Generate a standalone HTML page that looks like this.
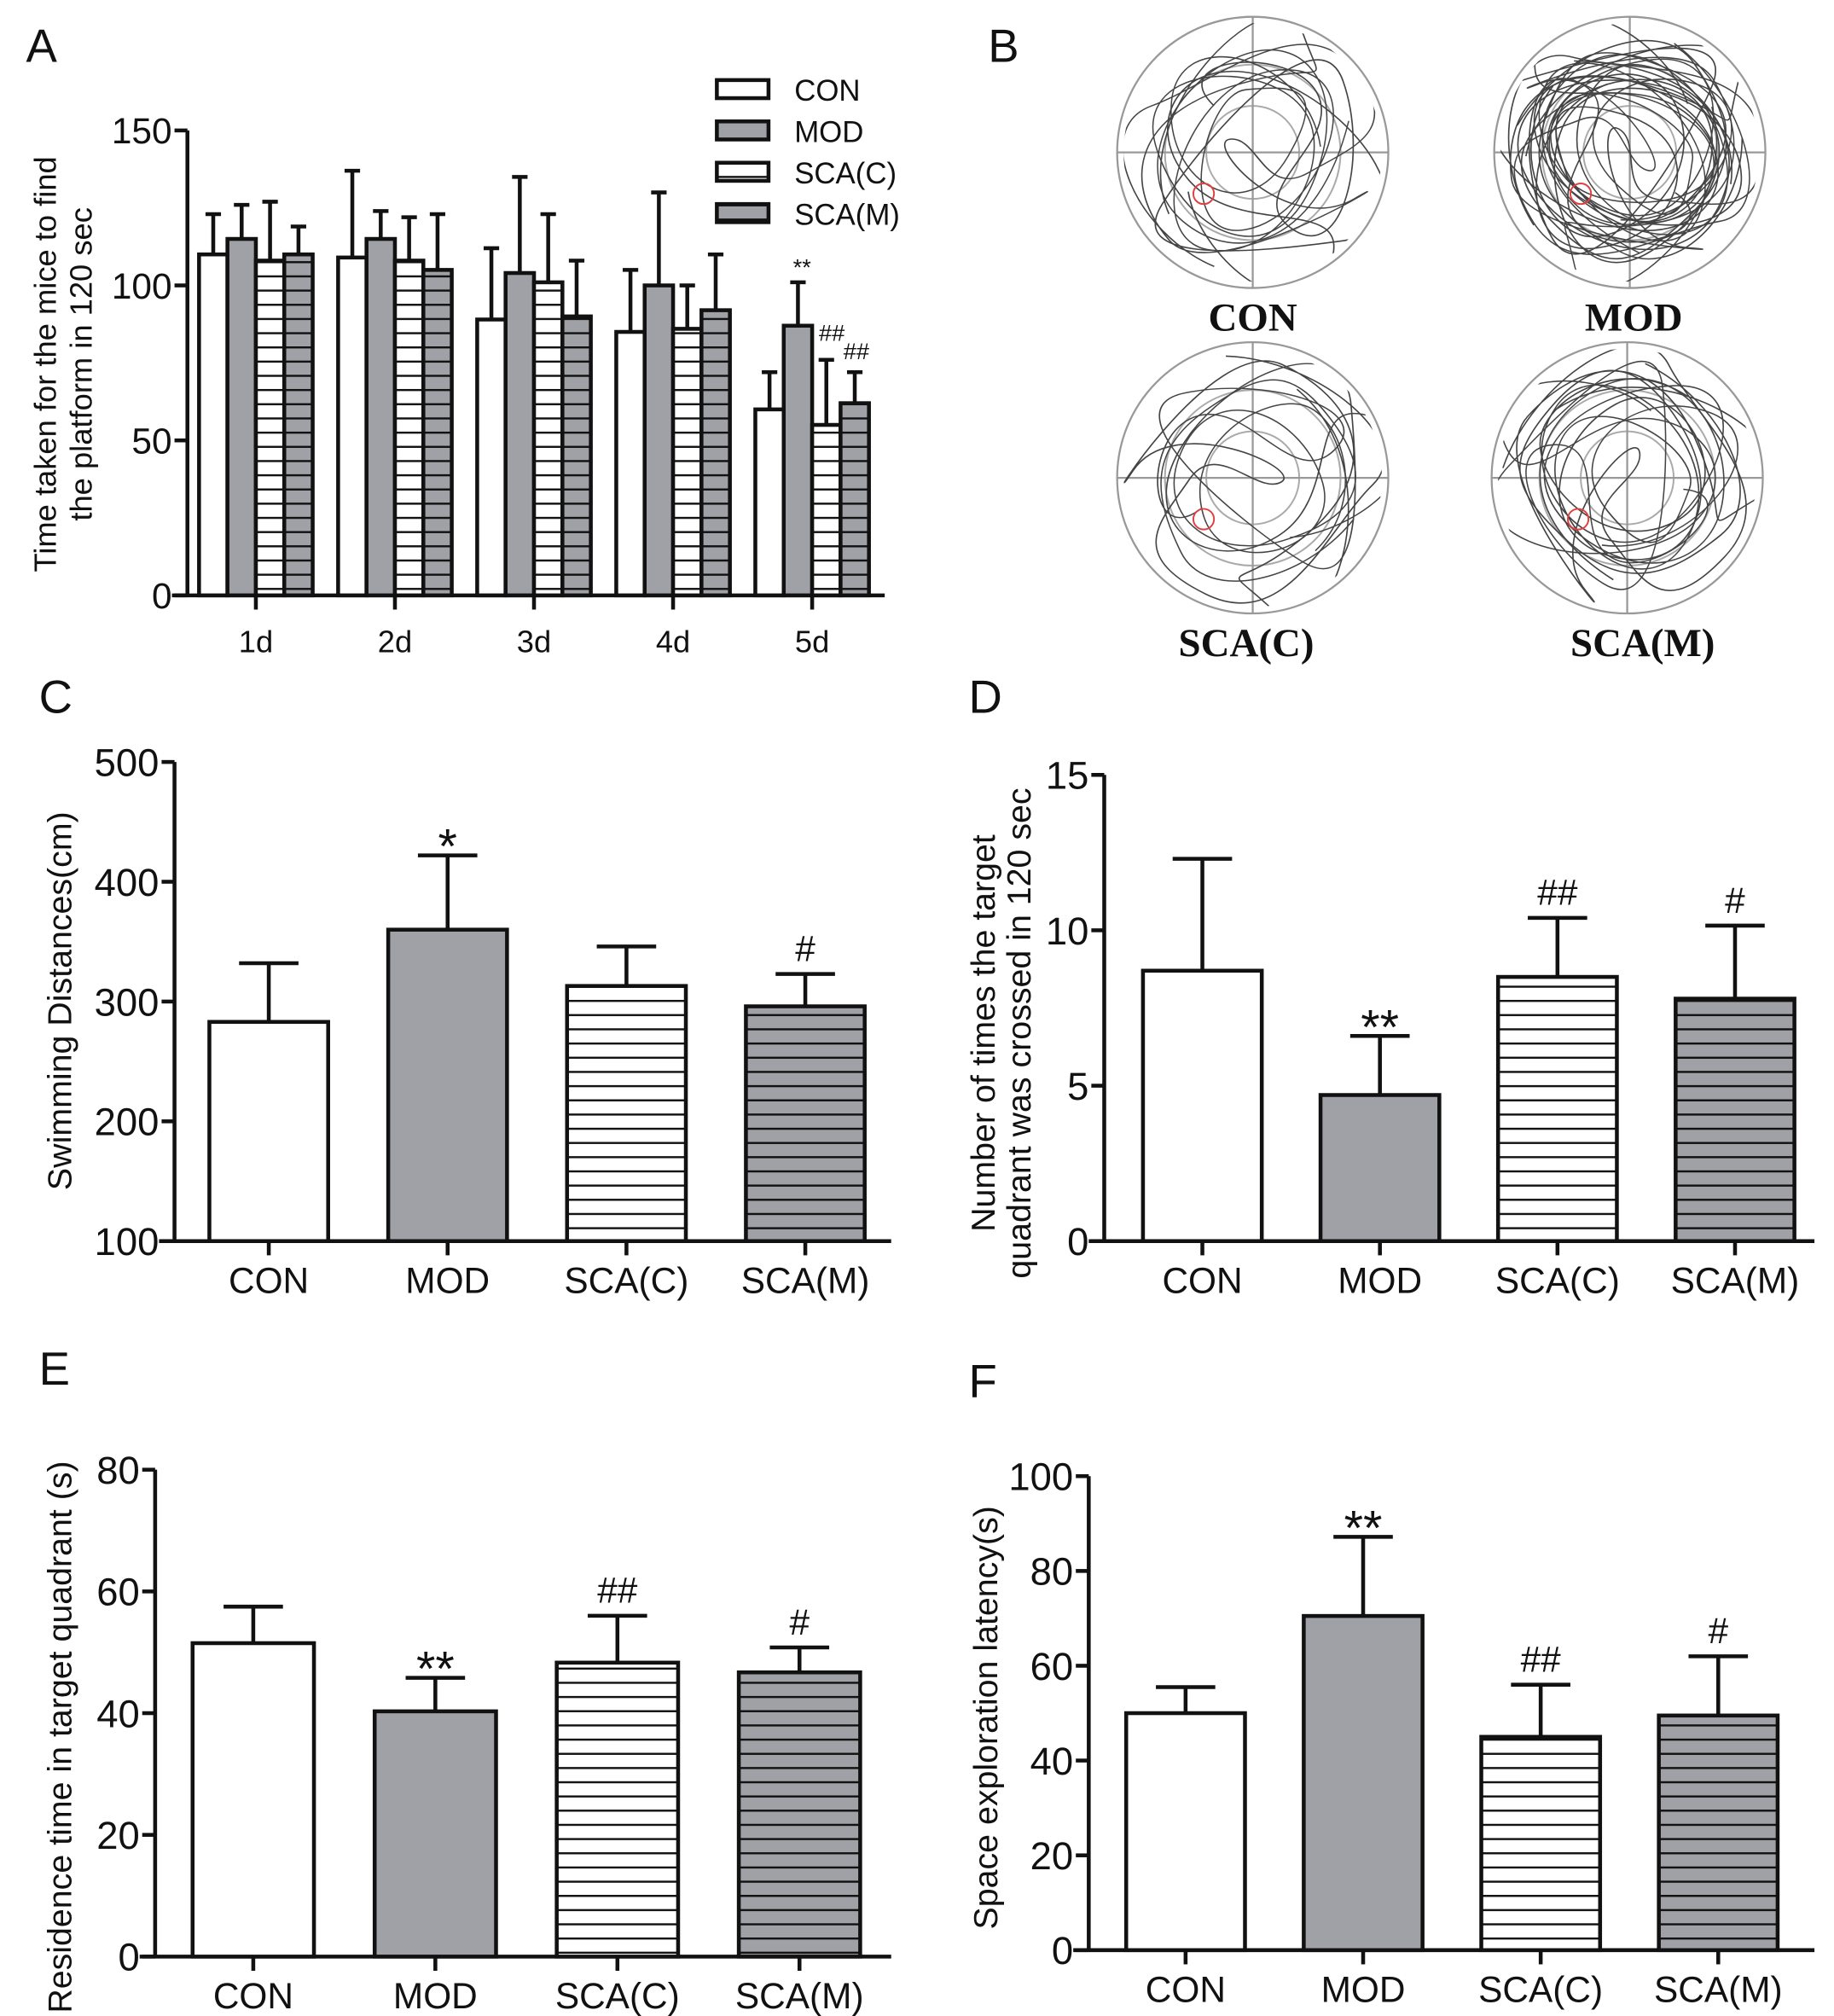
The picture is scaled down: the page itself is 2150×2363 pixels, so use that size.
<!DOCTYPE html>
<html><head><meta charset="utf-8"><style>
html,body{margin:0;padding:0;background:#fff}
svg{display:block}
text{font-family:"Liberation Sans",Arial,sans-serif;fill:#111}
.bold{font-family:"Liberation Serif",serif;font-weight:bold}
</style></head><body>
<svg id="fig" width="2150" height="2363" viewBox="0 0 1420 1561" xmlns="http://www.w3.org/2000/svg">
<defs>
<pattern id="hw" patternUnits="userSpaceOnUse" width="10" height="11"><rect width="10" height="11" fill="#fff"/><line x1="0" y1="5" x2="10" y2="5" stroke="#111" stroke-width="1.6"/></pattern>
<pattern id="hg" patternUnits="userSpaceOnUse" width="10" height="11"><rect width="10" height="11" fill="#9fa1a6"/><line x1="0" y1="5" x2="10" y2="5" stroke="#111" stroke-width="1.6"/></pattern>
<clipPath id="c1"><circle cx="970" cy="118" r="100"/></clipPath>
<clipPath id="c2"><circle cx="1262" cy="118" r="100"/></clipPath>
<clipPath id="c3"><circle cx="970" cy="370" r="100"/></clipPath>
<clipPath id="c4"><circle cx="1260" cy="370" r="100"/></clipPath>
</defs>
<g id="root"></g>
</svg>
<script>
// Panel A data
const catsA = ["1d","2d","3d","4d","5d"];
const aCON  = [110,109,89,85,60];
const aMOD  = [115,115,104,100,87];
const aSCAC = [108,108,101,86,55];
const aSCAM = [110,105,90,92,62];
const eCON  = [123,137,112,105,72];
const eMOD  = [126,124,135,130,101];
const eSCAC = [127,122,123,100,76];
const eSCAM = [119,123,108,110,72];
const ticksA = [0,50,100,150];
// Panel C
const groups = ["CON","MOD","SCA(C)","SCA(M)"];
const valC = [283,360,313,296];
const errC = [332,422,346,323];
const sigC = ["","*","","#"];
const ticksC = [100,200,300,400,500];
// Panel D
const valD = [8.7,4.7,8.5,7.8];
const errD = [12.3,6.6,10.4,10.15];
const sigD = ["","**","##","#"];
const ticksD = [0,5,10,15];
// Panel E
const valE = [51.5,40.3,48.3,46.7];
const errE = [57.5,45.8,56,50.8];
const sigE = ["","**","##","#"];
const ticksE = [0,20,40,60,80];
// Panel F
const valF = [50,70.5,45,49.5];
const errF = [55.5,87.2,56,62];
const sigF = ["","**","##","#"];
const ticksF = [0,20,40,60,80,100];

const NS="http://www.w3.org/2000/svg";
const root=document.getElementById('root');
function mk(tag,at,parent){const e=document.createElementNS(NS,tag);for(const k in at)e.setAttribute(k,at[k]);(parent||root).appendChild(e);return e;}
const fills=["#fff","#9fa1a6","url(#hw)","url(#hg)"];

function axes(g,x0,x1,yTop,yBot,ticks,min,max,fs){
  const ys=v=>yBot-(v-min)/(max-min)*(yBot-yTop);
  let a=mk('line',{x1:x0,y1:yTop,x2:x0,y2:yBot,stroke:'#111','stroke-width':3},g);
  
  let b=mk('line',{x1:x0-12,y1:yBot,x2:x1,y2:yBot,stroke:'#111','stroke-width':3},g);
  
  ticks.forEach(t=>{
    mk('line',{x1:x0-10,y1:ys(t),x2:x0,y2:ys(t),stroke:'#111','stroke-width':3},g);
    const tx=mk('text',{x:x0-12,y:ys(t)+fs*0.36,'font-size':fs,'text-anchor':'end'},g);
    tx.textContent=t;
    
    
  });
  return ys;
}
function bar(g,x,w,y,yb,fill,name){
  const r=mk('rect',{x:x,y:y,width:w,height:yb-y,fill:fill,stroke:'#111','stroke-width':3},g);
  
  
}
function err(g,cx,y,ye,cap){
  mk('line',{x1:cx,y1:y,x2:cx,y2:ye,stroke:'#111','stroke-width':3},g);
  mk('line',{x1:cx-cap,y1:ye,x2:cx+cap,y2:ye,stroke:'#111','stroke-width':3},g);
}
function label(txt,x,y,fs,name,extra){
  const t=mk('text',Object.assign({x:x,y:y,'font-size':fs},extra||{}));
  t.textContent=txt;
  
  
  return t;
}
function vtitle(lines,xs,cy,fs,name){
  lines.forEach((l,i)=>{
    const t=mk('text',{x:0,y:0,'font-size':fs,'text-anchor':'middle',transform:`translate(${xs[i]},${cy}) rotate(-90)`});
    t.textContent=l;
    
    
  });
}

// ---- Panel A ----
(function(){
  const g=mk('g',{});
  
  const ys=axes(g,145,685,101,461,ticksA,0,150,28);
  const series=[aCON,aMOD,aSCAC,aSCAM],errs=[eCON,eMOD,eSCAC,eSCAM];
  const names=["con","mod","scac","scam"];
  catsA.forEach((c,i)=>{
    const cx=198+i*107.7, bw=22, x0=cx-2*bw;
    series.forEach((s,j)=>{
      const bx=x0+j*bw;
      err(g,bx+bw/2,ys(s[i]),ys(errs[j][i]),6);
      bar(g,bx,bw,ys(s[i]),ys(0),fills[j],'bar-'+names[j]+'-'+c);
    });
    mk('line',{x1:cx,y1:461,x2:cx,y2:472,stroke:'#111','stroke-width':3},g);
    label(c,cx,505,24,'x-tick-label',{'text-anchor':'middle'});
  });
  label('**',621,213,18,'sig-mod-5d',{'text-anchor':'middle',fill:'#777'});
  label('##',644,264,18,'sig-scac-5d',{'text-anchor':'middle',fill:'#777'});
  label('##',663,278,18,'sig-scam-5d',{'text-anchor':'middle',fill:'#777'});
  vtitle(['Time taken for the mice to find','the platform in 120 sec'],[43,71],282,24,'y-axis-title');
  const lg=["CON","MOD","SCA(C)","SCA(M)"];
  lg.forEach((l,j)=>{
    const r=mk('rect',{x:555,y:62+j*32,width:40,height:14,fill:fills[j],stroke:'#111','stroke-width':3});
    
    label(l,615,78+j*32,23,'legend-entry');
  });
  label('A',20,48,36,'panel-label-a');
})();

// ---- Panel B (trajectories) ----
(function(){
  const centers=[[970,118,'CON',970,256,3],[1262,118,'MOD',1265,256,7],[970,370,'SCA(C)',965,508,3],[1260,370,'SCA(M)',1272,508,4]];
  const paths=[
   "M940,80 C900,40 1000,30 1020,70 S960,150 1000,180 S1060,120 1040,60 S930,110 900,160 S970,200 1040,190 S1060,90 990,60 S880,90 920,140 S1050,150 1030,210 S930,210 920,150",
   "M1200,60 C1300,30 1350,80 1340,140 S1250,210 1200,170 S1180,70 1260,60 S1350,130 1300,190 S1190,150 1210,100 S1330,50 1350,110 S1230,200 1190,130 S1280,40 1320,90 S1240,180 1220,150 S1180,90 1250,90 S1320,170 1260,200 S1170,120 1230,70",
   "M900,300 C960,260 1060,270 1050,320 S1060,460 990,470 S930,440 930,400 S980,380 990,360 S890,360 890,420 S880,290 940,280 S1050,300 1030,380 S980,440 1040,450 S1060,300 960,290",
   "M1200,300 C1260,270 1340,290 1340,340 S1330,430 1270,440 S1190,440 1180,380 S1200,300 1260,310 S1350,380 1300,420 S1200,400 1210,340 S1320,300 1310,360 S1230,430 1200,410 S1180,310 1240,290"
  ];
  centers.forEach((c,i)=>{
    const g=mk('g',{});
    
    
    const [cx,cy]=c;
    mk('circle',{cx:cx,cy:cy,r:105,fill:'none',stroke:'#999','stroke-width':1.5},g);
    mk('circle',{cx:cx,cy:cy,r:68,fill:'none',stroke:'#aaa','stroke-width':1.3},g);
    mk('circle',{cx:cx,cy:cy,r:36,fill:'none',stroke:'#aaa','stroke-width':1.3},g);
    mk('line',{x1:cx-105,y1:cy,x2:cx+105,y2:cy,stroke:'#999','stroke-width':1.5},g);
    mk('line',{x1:cx,y1:cy-105,x2:cx,y2:cy+105,stroke:'#999','stroke-width':1.5},g);
    const tg=mk('g',{'clip-path':`url(#c${i+1})`},g);
    for(let k=0;k<c[5];k++){
      const ang=k*(360/c[5])+17*i, sx=1-0.06*(k%3), sy=1-0.05*((k+1)%3);
      mk('path',{d:paths[(i+k)%4],fill:'none',stroke:'#444','stroke-width':1.1,
        transform:`translate(${cx},${cy}) rotate(${ang}) scale(${sx},${sy}) translate(${-centers[(i+k)%4][0]},${-centers[(i+k)%4][1]})`},tg);
    }
    mk('circle',{cx:cx-38,cy:cy+32,r:8,fill:'none',stroke:'#e04040','stroke-width':1.3},g);
    label(c[2],c[3],c[4],31,'track-label',{'text-anchor':'middle',class:'bold'});
  });
  label('B',765,48,36,'panel-label-b');
})();

// ---- Simple 4-bar panels ----
function panel(cfg){
  const g=mk('g',{});
  
  const ys=axes(g,cfg.x0,cfg.x1,cfg.yTop,cfg.yBot,cfg.ticks,cfg.min,cfg.max,30);
  const names=["con","mod","scac","scam"];
  groups.forEach((gr,i)=>{
    const cx=cfg.c0+i*cfg.step, bw=cfg.bw;
    err(g,cx,ys(cfg.vals[i]),ys(cfg.errs[i]),23);
    bar(g,cx-bw/2,bw,ys(cfg.vals[i]),cfg.yBot,fills[i],'bar-'+names[i]);
    mk('line',{x1:cx,y1:cfg.yBot,x2:cx,y2:cfg.yBot+11,stroke:'#111','stroke-width':3},g);
    label(gr,cx,cfg.yBot+40,28,'x-tick-label',{'text-anchor':'middle'});
    if(cfg.sig[i]){
      const isStar=cfg.sig[i].indexOf('*')>=0;
      label(cfg.sig[i],cx,ys(cfg.errs[i])-(isStar?-6:10),isStar?38:28,'significance-mark',{'text-anchor':'middle','font-family':'Liberation Serif, serif'});
    }
  });
  vtitle(cfg.title,cfg.tx,cfg.ty,26,'y-axis-title');
  label(cfg.letter,cfg.lx,cfg.ly,36,'panel-label-'+cfg.letter.toLowerCase());
}
panel({name:'panel-c-chart',x0:135,x1:690,yTop:590,yBot:961,ticks:ticksC,min:100,max:500,vals:valC,errs:errC,sig:sigC,c0:208,step:138.5,bw:92,title:['Swimming Distances(cm)'],tx:[55],ty:775,letter:'C',lx:30,ly:552});
panel({name:'panel-d-chart',x0:855,x1:1405,yTop:600,yBot:961,ticks:ticksD,min:0,max:15,vals:valD,errs:errD,sig:sigD,c0:931,step:137.5,bw:92,title:['Number of times the target','quadrant was crossed in 120 sec'],tx:[770,798],ty:800,letter:'D',lx:750,ly:552});
panel({name:'panel-e-chart',x0:120,x1:690,yTop:1138,yBot:1515,ticks:ticksE,min:0,max:80,vals:valE,errs:errE,sig:sigE,c0:196,step:141,bw:94,title:['Residence time in target quadrant (s)'],tx:[55],ty:1345,letter:'E',lx:30,ly:1072});
panel({name:'panel-f-chart',x0:843,x1:1405,yTop:1143,yBot:1510,ticks:ticksF,min:0,max:100,vals:valF,errs:errF,sig:sigF,c0:918,step:137.5,bw:92,title:['Space exploration latency(s)'],tx:[772],ty:1330,letter:'F',lx:750,ly:1082});
</script>
</body></html>
